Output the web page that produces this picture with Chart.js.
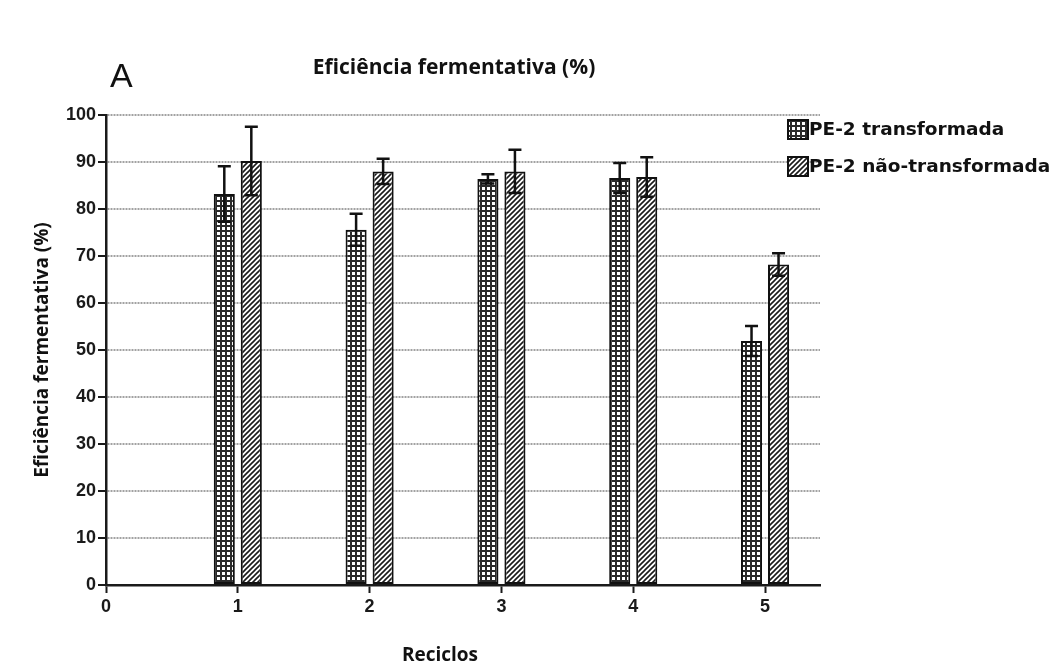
<!DOCTYPE html>
<html>
<head>
<meta charset="utf-8">
<script src="https://cdn.jsdelivr.net/npm/chart.js@4.4.1/dist/chart.umd.min.js"></script>
<style>
  html, body { margin: 0; padding: 0; background: #ffffff; }
  #grafico { display: block; }
</style>
</head>
<body>
<canvas id="grafico" width="1061" height="668"></canvas>
<script>
// Ciclos de reciclo (eixo x) e valores médios de eficiência fermentativa (%)
const reciclos = [1, 2, 3, 4, 5];
const transformada = [83.2, 75.6, 86.4, 86.6, 51.9];
const transformadaErro = [5.9, 3.4, 1.0, 3.2, 3.2];
const naoTransformada = [90.2, 88.0, 88.0, 86.8, 68.2];
const naoTransformadaErro = [7.3, 2.7, 4.6, 4.2, 2.4];
const rotulosSeries = ['PE-2 transformada', 'PE-2 não-transformada'];
const ticksX = [0, 1, 2, 3, 4, 5];
const ticksY = [0, 10, 20, 30, 40, 50, 60, 70, 80, 90, 100];

// Texturas das barras: quadriculado e hachurado diagonal
function padraoQuadriculado() {
  const n = 5;
  const c = document.createElement('canvas');
  c.width = n; c.height = n;
  const g = c.getContext('2d');
  g.fillStyle = '#ffffff'; g.fillRect(0, 0, n, n);
  g.fillStyle = '#2a2a2a';
  g.fillRect(0, 0, n, 2);
  g.fillRect(0, 0, 2, n);
  return g.createPattern(c, 'repeat');
}
function padraoHachurado() {
  const n = 5;
  const c = document.createElement('canvas');
  c.width = n; c.height = n;
  const g = c.getContext('2d');
  g.fillStyle = '#ffffff'; g.fillRect(0, 0, n, n);
  g.strokeStyle = '#1a1a1a'; g.lineWidth = 1.6;
  g.beginPath();
  g.moveTo(-1, n + 1); g.lineTo(n + 1, -1);
  g.moveTo(-1, 1); g.lineTo(1, -1);
  g.moveTo(n - 1, n + 1); g.lineTo(n + 1, n - 1);
  g.stroke();
  return g.createPattern(c, 'repeat');
}

const pontos = (vals) => reciclos.map((r, i) => ({ x: r, y: vals[i] }));

// Barras de erro desenhadas sobre as barras
const barrasErro = {
  id: 'barrasErro',
  afterDatasetsDraw(chart) {
    const { ctx } = chart;
    const y = chart.scales.y;
    chart.data.datasets.forEach((ds, di) => {
      const meta = chart.getDatasetMeta(di);
      meta.data.forEach((bar, i) => {
        const v = ds.data[i].y, e = ds.erros[i];
        const yTop = y.getPixelForValue(v + e);
        const yBot = y.getPixelForValue(v - e);
        const cap = 6.5;
        ctx.save();
        ctx.strokeStyle = '#111111';
        ctx.lineWidth = 2.5;
        ctx.beginPath();
        ctx.moveTo(bar.x, yTop); ctx.lineTo(bar.x, yBot);
        ctx.moveTo(bar.x - cap, yTop); ctx.lineTo(bar.x + cap, yTop);
        ctx.moveTo(bar.x - cap, yBot); ctx.lineTo(bar.x + cap, yBot);
        ctx.stroke();
        ctx.restore();
      });
    });
  }
};

// Letra do painel, título, título do eixo x e legenda
const textos = {
  id: 'textos',
  afterDraw(chart) {
    const { ctx } = chart;
    ctx.save();
    ctx.fillStyle = '#111111';
    ctx.textBaseline = 'alphabetic';
    ctx.textAlign = 'left';
    ctx.font = '34px "Liberation Sans", Arial, sans-serif';
    ctx.fillText('A', 110, 87);

    ctx.textAlign = 'center';
    ctx.font = 'bold 21px "Open Sans", sans-serif';
    ctx.fillText('Eficiência fermentativa (%)', 454, 74);

    ctx.font = 'bold 19px "Open Sans", sans-serif';
    ctx.fillText('Reciclos', 440, 661);

    ctx.textAlign = 'left';
    ctx.textBaseline = 'middle';
    ctx.font = 'bold 18.5px "DejaVu Sans", sans-serif';
    chart.data.datasets.forEach((ds, i) => {
      const bx = 788, by = 120 + i * 37;
      ctx.fillStyle = ds.backgroundColor;
      ctx.fillRect(bx, by, 20, 19);
      ctx.strokeStyle = '#111111';
      ctx.lineWidth = 2;
      ctx.strokeRect(bx, by, 20, 19);
      ctx.fillStyle = '#111111';
      ctx.fillText(ds.label, bx + 21, by + 10);
    });
    ctx.restore();
  }
};

new Chart(document.getElementById('grafico'), {
  type: 'bar',
  data: {
    datasets: [
      {
        label: rotulosSeries[0],
        data: pontos(transformada),
        erros: transformadaErro,
        backgroundColor: padraoQuadriculado(),
        borderColor: '#111111',
        borderWidth: 2,
        borderSkipped: false
      },
      {
        label: rotulosSeries[1],
        data: pontos(naoTransformada),
        erros: naoTransformadaErro,
        backgroundColor: padraoHachurado(),
        borderColor: '#111111',
        borderWidth: 2,
        borderSkipped: false
      }
    ]
  },
  options: {
    responsive: false,
    animation: false,
    devicePixelRatio: 1,
    categoryPercentage: 0.41,
    barPercentage: 0.78,
    layout: { padding: { top: 115, right: 241, bottom: 0, left: 0 } },
    plugins: {
      legend: { display: false },
      title: { display: false },
      tooltip: { enabled: false }
    },
    scales: {
      x: {
        type: 'linear',
        position: 'bottom',
        min: 0,
        max: 5.417,
        offset: false,
        afterBuildTicks(scale) { scale.ticks = ticksX.map(v => ({ value: v })); },
        ticks: {
          autoSkip: false,
          maxRotation: 0,
          padding: 3,
          color: '#1a1a1a',
          font: { family: '"Liberation Sans", Arial, sans-serif', size: 18, weight: 'bold' }
        },
        grid: {
          offset: false,
          drawOnChartArea: false,
          drawTicks: true,
          tickLength: 8,
          tickWidth: 2,
          tickColor: '#1a1a1a'
        },
        border: { display: true, color: '#1a1a1a', width: 2.5 },
        afterFit(scale) { scale.height = 83; }
      },
      y: {
        min: 0,
        max: 100,
        afterBuildTicks(scale) { scale.ticks = ticksY.map(v => ({ value: v })); },
        ticks: {
          padding: 2,
          color: '#1a1a1a',
          font: { family: '"Liberation Sans", Arial, sans-serif', size: 18, weight: 'bold' }
        },
        grid: {
          color: '#a2a2a2',
          lineWidth: 2,
          drawTicks: true,
          tickLength: 8,
          tickWidth: 2,
          tickColor: '#1a1a1a',
          tickBorderDash: []
        },
        border: { display: true, color: '#1a1a1a', width: 2.5, dash: [2, 1] },
        title: {
          display: true,
          text: 'Eficiência fermentativa (%)',
          color: '#111111',
          font: { family: '"Open Sans", sans-serif', size: 19, weight: 'bold' },
          padding: { top: 31, bottom: 0 }
        },
        afterFit(scale) { scale.width = 106; }
      }
    }
  },
  plugins: [barrasErro, textos]
});
</script>
</body>
</html>
